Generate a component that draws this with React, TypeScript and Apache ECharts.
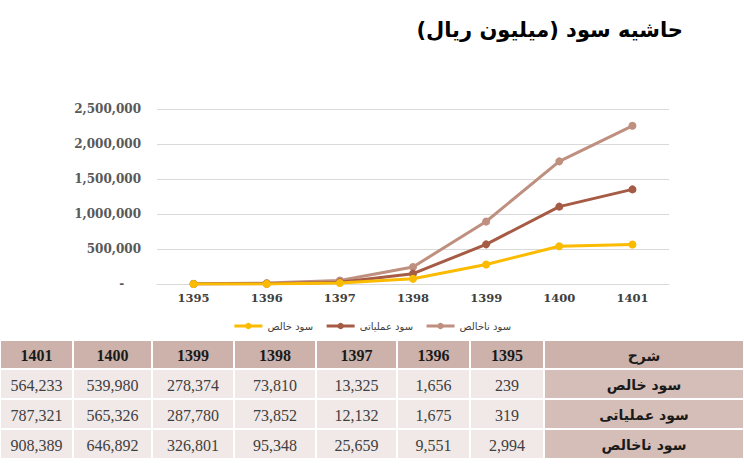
import React, { useEffect, useRef } from "react";
import * as echarts from "echarts";

const titleText = "حاشیه سود (میلیون ریال)\u200F";
const years = ["1395", "1396", "1397", "1398", "1399", "1400", "1401"];
const seriesNames = ["سود خالص", "سود عملیاتی", "سود ناخالص"];
const netProfit = [239, 1656, 13325, 73810, 278374, 539980, 564233];
const operatingProfit = [319, 1675, 12132, 73852, 287780, 565326, 787321];
const grossProfit = [2994, 9551, 25659, 95348, 326801, 646892, 908389];
const seriesColors = ["#FABB00", "#A65B45", "#BF8F80"];
const headerLabel = "شرح";

// table layout (left-to-right column edges)
const colEdges = [0, 73, 152, 234, 316, 397, 470, 544, 744];
const rowEdges = [340, 369, 399, 429, 459];

const AR = "'DejaVu Sans', sans-serif";
const SERIF = "'Liberation Serif', serif";
const AXISFONT = "'DejaVu Serif', serif";

function fmt(n: number) {
  return n.toLocaleString("en-US");
}

function buildTable() {
  const els: any[] = [];
  const rowsData = [netProfit, operatingProfit, grossProfit];
  const nRows = rowsData.length + 1;
  const nCols = colEdges.length - 1;
  for (let r = 0; r < nRows; r++) {
    for (let c = 0; c < nCols; c++) {
      const x0 = colEdges[c];
      const x1 = colEdges[c + 1];
      const y0 = rowEdges[r];
      const y1 = rowEdges[r + 1];
      const isHeader = r === 0;
      const isLabelCol = c === nCols - 1;
      const fill = isHeader ? "#CCB2AB" : isLabelCol ? "#D5BEB8" : "#F1E9E7";
      els.push({
        type: "rect",
        shape: { x: x0 + 1, y: y0 + 1, width: x1 - x0 - 2, height: y1 - y0 - 2 },
        style: { fill },
        silent: true,
      });
      let text = "";
      let font = "";
      if (isLabelCol) {
        text = isHeader ? headerLabel : seriesNames[r - 1];
        font = `bold 14px ${AR}`;
      } else {
        const yearIdx = nCols - 2 - c; // rightmost data column is 1395
        if (isHeader) {
          text = years[yearIdx];
          font = `bold 16px ${SERIF}`;
        } else {
          text = fmt(rowsData[r - 1][yearIdx]);
          font = `16px ${SERIF}`;
        }
      }
      els.push({
        type: "text",
        x: (x0 + x1) / 2,
        y: (y0 + y1) / 2 + 1,
        style: {
          text,
          font,
          fill: isHeader || isLabelCol ? "#1a1a1a" : "#404040",
          textAlign: "center",
          textVerticalAlign: "middle",
        },
        silent: true,
      });
    }
  }
  return els;
}

export default function App() {
  const ref = useRef<HTMLDivElement>(null);
  useEffect(() => {
    if (!ref.current) return;
    const chart = echarts.init(ref.current, null, { renderer: "svg" });
    const dataSets = [netProfit, operatingProfit, grossProfit];
    chart.setOption({
      animation: false,
      backgroundColor: "#ffffff",
      title: {
        text: titleText,
        right: 56,
        top: 14,
        textStyle: { fontFamily: AR, fontWeight: "bold", fontSize: 21, color: "#000" },
      },
      legend: {
        top: 316,
        left: "center",
        itemWidth: 28,
        itemHeight: 8,
        itemGap: 12,
        data: seriesNames,
        lineStyle: { width: 3 },
        textStyle: { fontFamily: AR, fontSize: 10, color: "#404040" },
      },
      grid: { left: 157, right: 75, top: 109, bottom: 180 },
      xAxis: {
        type: "category",
        data: years,
        boundaryGap: true,
        axisLine: { lineStyle: { color: "#D9D9D9" } },
        axisTick: { show: false },
        axisLabel: {
          fontFamily: AXISFONT,
          fontWeight: "bold",
          fontSize: 11.5,
          color: "#404040",
          margin: 8,
        },
      },
      yAxis: {
        type: "value",
        min: 0,
        max: 2500000,
        interval: 500000,
        axisLine: { show: false },
        axisTick: { show: false },
        splitLine: { lineStyle: { color: "#D9D9D9" } },
        axisLabel: {
          fontFamily: AXISFONT,
          fontWeight: "bold",
          fontSize: 12,
          color: "#595959",
          margin: 16,
          formatter: (v: number) => (v === 0 ? "-    " : fmt(v)),
        },
      },
      series: seriesNames.map((name, i) => ({
        name,
        type: "line",
        stack: "total",
        data: dataSets[i],
        symbol: "circle",
        symbolSize: 8,
        showSymbol: true,
        itemStyle: { color: seriesColors[i] },
        lineStyle: { color: seriesColors[i], width: 3 },
        z: 3 - i,
      })),
      graphic: buildTable(),
    });
    return () => chart.dispose();
  }, []);
  return (
    <div
      ref={ref}
      style={{ position: "fixed", left: 0, top: 0, width: 744, height: 464 }}
    />
  );
}
